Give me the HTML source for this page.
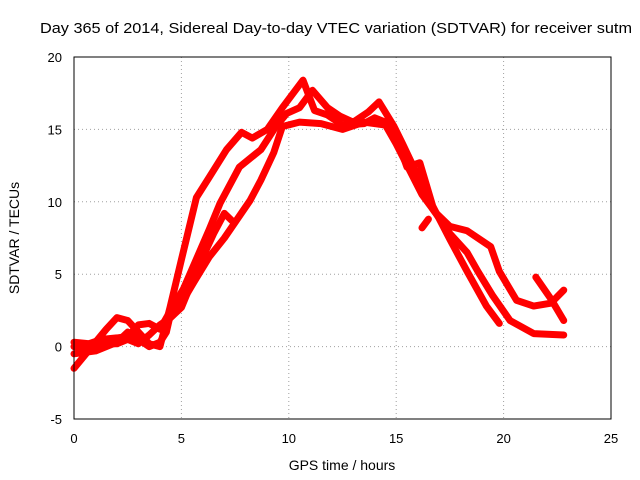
<!DOCTYPE html>
<html><head><meta charset="utf-8"><style>
body{margin:0;background:#fff;}
svg{display:block;font-family:"Liberation Sans",sans-serif;}
</style></head><body>
<svg id="chart" width="640" height="480">
<text x="40" y="33" font-size="15" textLength="592" lengthAdjust="spacingAndGlyphs">Day 365 of 2014, Sidereal Day-to-day VTEC variation (SDTVAR) for receiver sutm</text>
<g id="grid"></g><g id="ticks"></g><g id="series"></g>
<rect x="74" y="57" width="537" height="362" fill="none" stroke="#000" stroke-width="1"/>
<text x="342" y="470" font-size="14" text-anchor="middle">GPS time / hours</text>
<text transform="translate(19,238) rotate(-90)" font-size="14" text-anchor="middle">SDTVAR / TECUs</text>
</svg>
<script>
const xTicks=[0,5,10,15,20,25];
const yTicks=[-5,0,5,10,15,20];
const t1=[0,0.5,1,1.5,2,2.5,3,3.5,4,4.47,5,5.7,6.3,7.1,7.8,8.3,9.0,9.7,10.66,11.2,11.8,12.5,13.5,14,14.5,15,15.5,16.1,16.7,17.5,18.3,19.2,19.8];
const v1=[-1.5,-0.6,0.3,1.2,2.0,1.8,1.0,0.2,0,2.7,6,10.3,11.7,13.6,14.8,14.4,15,16.5,18.4,16.3,16.0,15.3,15.4,15.8,15.5,14.5,12.4,12.7,9.7,7.4,5.2,2.8,1.6];
const t2=[0,0.7,1.3,2,2.5,3,3.5,4,4.5,5.1,6.3,6.8,7.7,8.7,9.4,9.9,10.5,11.1,11.8,12.4,13,13.7,14.2,14.9,15.3,16.1,16.7,17.5,18.3,18.8,19.5,20.3,21.4,22.8];
const v2=[0.3,0.2,0.5,0.6,0.7,1.5,1.6,1.2,2.5,4,8.1,9.9,12.4,13.6,15.2,16.1,16.5,17.7,16.5,15.9,15.5,16.2,16.9,15.2,14,11.5,9.5,7.8,6.5,5.2,3.5,1.8,0.9,0.8];
const t3=[0,1,2,2.5,3,3.5,4,4.3,4.5,5,5.6,6.3,7,8.2,8.7,9.3,9.7,10.5,11.5,12.5,13.5,14.5,15,16.2,16.8,17.5,18.3,19.4,19.8,20.6,21.4,22.2,22.8];
const v3=[-0.5,-0.3,0.3,1.0,0.5,0,0.3,1.0,2.3,3,4.5,6.2,7.5,10.1,11.5,13.4,15.2,15.5,15.4,15.0,15.5,15.3,14,10.5,9.3,8.3,8.0,6.9,5.2,3.2,2.8,3.0,3.9];
const t4=[0,1,1.5,2,2.5,3,3.5,4,4.5,5,5.5,6,6.5,7,7.35];
const v4=[0,-0.2,0.2,0.2,0.5,0.2,0.8,1.5,2.0,2.7,4.5,6.2,7.8,9.2,8.7];
const t5=[21.5,22.2,22.8];
const v5=[4.8,3.3,1.8];
const t6=[16.2,16.5];
const v6=[8.2,8.8];
const X=v=>74+v*537/25, Y=v=>419-(v+5)*362/25;
const NS="http://www.w3.org/2000/svg";
function mk(tag,attrs,parent){const e=document.createElementNS(NS,tag);for(const k in attrs)e.setAttribute(k,attrs[k]);document.getElementById(parent).appendChild(e);return e;}
xTicks.forEach(t=>{
 if(t>0&&t<25){const g=mk('line',{x1:X(t),x2:X(t),y1:57,y2:419,stroke:'#a0a0a0','stroke-dasharray':'1,3'},'grid');
 
 }
 const l=mk('text',{x:X(t),y:443,'font-size':13,'text-anchor':'middle'},'ticks');l.textContent=t;
 
 
});
yTicks.forEach(t=>{
 if(t>-5&&t<20){const g=mk('line',{x1:74,x2:611,y1:Y(t),y2:Y(t),stroke:'#a0a0a0','stroke-dasharray':'1,3'},'grid');
 
 }
 const l=mk('text',{x:62,y:Y(t)+5,'font-size':13,'text-anchor':'end'},'ticks');l.textContent=t;
 
 
});
[[t1,v1],[t2,v2],[t3,v3],[t4,v4],[t5,v5],[t6,v6]].forEach((s,i)=>{
 const pts=s[0].map((t,j)=>X(t)+','+Y(s[1][j])).join(' ');
 const p=mk('polyline',{points:pts,fill:'none',stroke:'#ff0000','stroke-width':7,'stroke-linejoin':'round','stroke-linecap':'round'},'series');
 
 
});
</script>
</body></html>
